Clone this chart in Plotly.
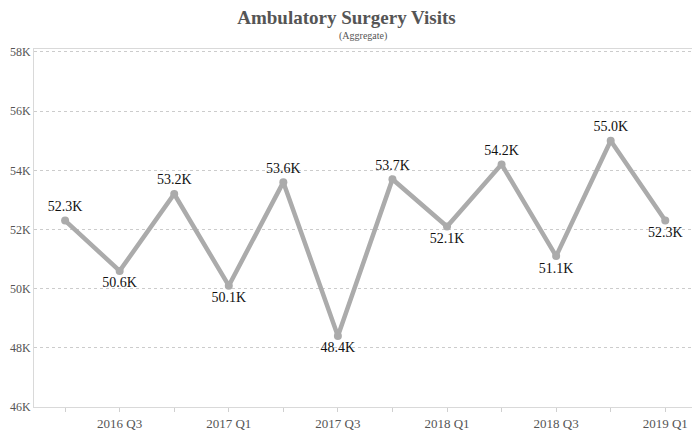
import plotly.graph_objects as go

quarters = ["2016 Q2", "2016 Q3", "2016 Q4", "2017 Q1", "2017 Q2", "2017 Q3",
            "2017 Q4", "2018 Q1", "2018 Q2", "2018 Q3", "2018 Q4", "2019 Q1"]
visits = [52300, 50600, 53200, 50100, 53600, 48400,
          53700, 52100, 54200, 51100, 55000, 52300]
label_pos = ["top center", "bottom center", "top center", "bottom center", "top center", "bottom center",
             "top center", "bottom center", "top center", "bottom center", "top center", "bottom center"]
y_ticks = [46000, 48000, 50000, 52000, 54000, 56000, 58000]
y_tick_text = ["46K", "48K", "50K", "52K", "54K", "56K", "58K"]

x_idx = list(range(len(quarters)))
labels = [f"{v/1000:.1f}K" for v in visits]

FONT = "Liberation Serif, Times New Roman, serif"

fig = go.Figure()
fig.add_trace(go.Scatter(
    x=x_idx, y=visits, mode="lines+markers+text",
    line=dict(color="#ababab", width=4.5),
    marker=dict(color="#ababab", size=8),
    text=labels, textposition=label_pos,
    textfont=dict(family=FONT, size=14, color="#111111"),
    hoverinfo="skip", cliponaxis=False,
))

fig.update_layout(
    width=693, height=433,
    margin=dict(l=34, r=1, t=49, b=26, autoexpand=False),
    paper_bgcolor="white", plot_bgcolor="white",
    showlegend=False,
    font=dict(family=FONT, color="#555555"),
    title=dict(text="<b>Ambulatory Surgery Visits</b>", x=0.5, xanchor="center",
               y=1 - 17 / 433, yanchor="middle", yref="container",
               font=dict(family=FONT, size=19, color="#555555")),
)
fig.add_annotation(text="(Aggregate)", xref="paper", yref="paper", x=0.5, y=1.0,
                   yshift=13, xanchor="center", yanchor="middle", showarrow=False,
                   font=dict(family=FONT, size=10, color="#555555"))

fig.update_xaxes(
    range=[-0.57, 11.49],
    tickmode="array",
    tickvals=[i for i in x_idx if i % 2 == 1],
    ticktext=[quarters[i] for i in x_idx if i % 2 == 1],
    ticks="outside", ticklen=4, tickcolor="#d0d0d0",
    minor=dict(ticks="outside", ticklen=4, tickcolor="#d0d0d0", dtick=1, tick0=0),
    showgrid=False, zeroline=False,
    showline=True, linecolor="#d9d9d9", linewidth=1, mirror=True,
    tickfont=dict(family=FONT, size=13, color="#555555"),
)
fig.update_yaxes(
    range=[46000, 58100],
    tickmode="array", tickvals=y_ticks, ticktext=y_tick_text,
    showgrid=True, gridcolor="#cccccc", griddash="dot", gridwidth=1,
    zeroline=False,
    showline=True, linecolor="#d9d9d9", linewidth=1,
    ticks="", ticklen=4,
    tickfont=dict(family=FONT, size=12, color="#555555"),
)

fig.write_html("out.html", config={"displayModeBar": False},
               post_script="document.body.style.margin='0';document.body.style.overflow='hidden';")
